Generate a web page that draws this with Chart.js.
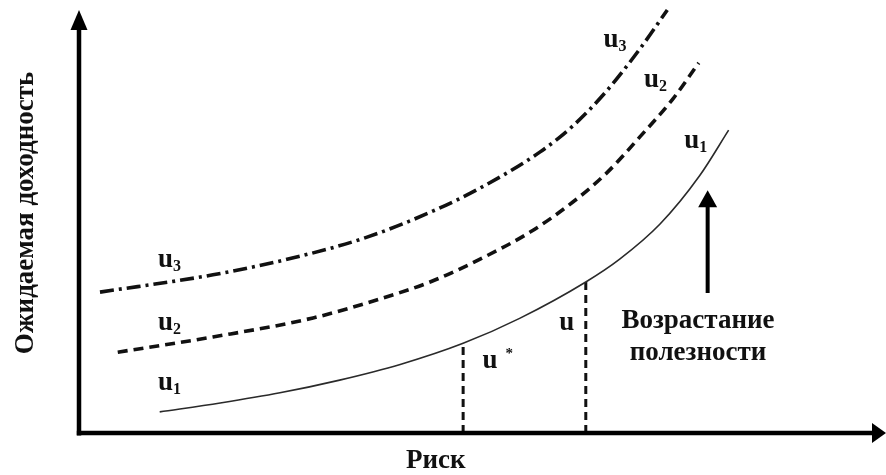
<!DOCTYPE html>
<html lang="ru">
<head>
<meta charset="utf-8">
<title>Кривые безразличия</title>
<script src="https://cdn.jsdelivr.net/npm/chart.js@4/dist/chart.umd.min.js"></script>
<style>
  html, body { margin: 0; padding: 0; background: #fff; }
  canvas { display: block; }
</style>
</head>
<body>
<canvas id="chart" width="886" height="475"></canvas>
<script>
// Indifference curves: risk (x) vs expected return (y), arbitrary units 0..100
const riskU1   = [10.0, 17.5, 24.9, 32.3, 39.8, 47.6, 54.6, 62.8, 67.0, 72.0, 76.9, 80.5];
const returnU1 = [5.0, 7.1, 9.5, 12.5, 16.2, 21.2, 27.1, 35.7, 41.1, 49.4, 60.8, 71.6];

const riskU2   = [4.8, 16.6, 29.0, 37.3, 43.5, 49.7, 55.9, 61.2, 65.4, 69.5, 73.6, 76.8];
const returnU2 = [19.1, 22.7, 27.2, 31.7, 35.7, 41.1, 47.5, 54.6, 61.5, 70.0, 79.0, 87.5];

const riskU3   = [2.6, 16.6, 27.4, 35.7, 43.9, 49.7, 57.1, 61.2, 65.4, 69.5, 72.9];
const returnU3 = [33.3, 37.4, 41.8, 46.3, 52.5, 57.9, 66.4, 72.6, 80.9, 90.8, 100.0];

// points on u1 marked by vertical guides: u* and u
const markedIdx = [5, 7];

const toPoints = (xs, ys) => xs.map((x, i) => ({ x: x, y: ys[i] }));

const SERIF = '"Liberation Serif", "Times New Roman", "DejaVu Serif", serif';
const INK = '#111';
const FONT_MAIN = 'bold 27px ' + SERIF;

const curveBase = {
  showLine: true,
  pointRadius: 0,
  pointHoverRadius: 0,
  fill: false,
  cubicInterpolationMode: 'monotone',
  borderCapStyle: 'butt',
  clip: false
};

const datasets = [
  Object.assign({}, curveBase, {
    label: 'u1', data: toPoints(riskU1, returnU1),
    borderColor: '#2a2a2a', borderWidth: 1.6
  }),
  Object.assign({}, curveBase, {
    label: 'u2', data: toPoints(riskU2, returnU2),
    borderColor: INK, borderWidth: 3.6, borderDash: [10, 6]
  }),
  Object.assign({}, curveBase, {
    label: 'u3', data: toPoints(riskU3, returnU3),
    borderColor: INK, borderWidth: 3.6, borderDash: [14, 5, 3, 5]
  })
];

markedIdx.forEach((idx, k) => {
  datasets.push(Object.assign({}, curveBase, {
    label: k === 0 ? 'u*' : 'u',
    data: [{ x: riskU1[idx], y: 0 }, { x: riskU1[idx], y: returnU1[idx] }],
    borderColor: INK, borderWidth: 3, borderDash: [8, 5],
    cubicInterpolationMode: 'default', tension: 0
  }));
});

// curve names and notes, anchored in data units
const curveLabels = [
  { name: 'u', sub: '3', x: 9.8, y: 39.2 },
  { name: 'u', sub: '2', x: 9.8, y: 24.3 },
  { name: 'u', sub: '1', x: 9.8, y: 10.2 },
  { name: 'u', sub: '3', x: 65.0, y: 91.3 },
  { name: 'u', sub: '2', x: 70.0, y: 81.8 },
  { name: 'u', sub: '1', x: 75.0, y: 67.4 },
  { name: 'u', sup: '*', x: 50.0, y: 15.4 },
  { name: 'u', x: 59.5, y: 24.3 }
];

const decorations = {
  id: 'decorations',
  afterDatasetsDraw(chart) {
    const ctx = chart.ctx;
    const xs = chart.scales.x, ys = chart.scales.y;
    const x0 = xs.getPixelForValue(0);
    const y0 = ys.getPixelForValue(0);
    ctx.save();
    ctx.fillStyle = '#000';
    ctx.strokeStyle = '#000';
    ctx.lineCap = 'butt';

    // vertical axis with arrow
    ctx.lineWidth = 4.5;
    ctx.beginPath();
    ctx.moveTo(x0, y0 + 2.5);
    ctx.lineTo(x0, 28);
    ctx.stroke();
    ctx.beginPath();
    ctx.moveTo(x0, 10);
    ctx.lineTo(x0 - 8.5, 30);
    ctx.lineTo(x0 + 8.5, 30);
    ctx.closePath();
    ctx.fill();

    // horizontal axis with arrow
    ctx.beginPath();
    ctx.moveTo(x0 - 2.2, y0);
    ctx.lineTo(874, y0);
    ctx.stroke();
    ctx.beginPath();
    ctx.moveTo(886, y0);
    ctx.lineTo(872, y0 - 10);
    ctx.lineTo(872, y0 + 10);
    ctx.closePath();
    ctx.fill();

    // "utility grows" arrow
    const ax = xs.getPixelForValue(77.9);
    const aBottom = ys.getPixelForValue(33.1);
    const aTip = ys.getPixelForValue(57.4);
    ctx.lineWidth = 4;
    ctx.beginPath();
    ctx.moveTo(ax, aBottom);
    ctx.lineTo(ax, aTip + 15);
    ctx.stroke();
    ctx.beginPath();
    ctx.moveTo(ax, aTip);
    ctx.lineTo(ax - 9.5, aTip + 17);
    ctx.lineTo(ax + 9.5, aTip + 17);
    ctx.closePath();
    ctx.fill();

    // curve labels
    ctx.fillStyle = INK;
    ctx.textBaseline = 'alphabetic';
    ctx.textAlign = 'left';
    curveLabels.forEach(l => {
      const px = xs.getPixelForValue(l.x);
      const py = ys.getPixelForValue(l.y);
      ctx.font = FONT_MAIN;
      ctx.fillText(l.name, px, py);
      const w = ctx.measureText(l.name).width;
      if (l.sub) {
        ctx.font = 'bold 16px ' + SERIF;
        ctx.fillText(l.sub, px + w, py + 4);
      }
      if (l.sup) {
        ctx.font = 'bold 15px ' + SERIF;
        ctx.fillText(l.sup, px + w + 8, py - 10);
      }
    });

    // note next to the arrow
    ctx.textAlign = 'center';
    ctx.font = FONT_MAIN;
    const nx = xs.getPixelForValue(76.7);
    ctx.fillText('Возрастание', nx, ys.getPixelForValue(24.8));
    ctx.fillText('полезности', nx, ys.getPixelForValue(17.3));

    // axis titles
    ctx.fillText('Риск', xs.getPixelForValue(44.2), 468);
    ctx.translate(33, 213);
    ctx.rotate(-Math.PI / 2);
    ctx.fillText('Ожидаемая доходность', 0, 0);
    ctx.restore();
  }
};

new Chart(document.getElementById('chart'), {
  type: 'scatter',
  data: { datasets: datasets },
  options: {
    responsive: false,
    animation: false,
    layout: { padding: { left: 79, right: 0, top: 10, bottom: 42 } },
    plugins: {
      legend: { display: false },
      tooltip: { enabled: false }
    },
    scales: {
      x: { type: 'linear', min: 0, max: 100, display: false },
      y: { type: 'linear', min: 0, max: 100, display: false }
    },
    events: []
  },
  plugins: [decorations]
});
</script>
</body>
</html>
